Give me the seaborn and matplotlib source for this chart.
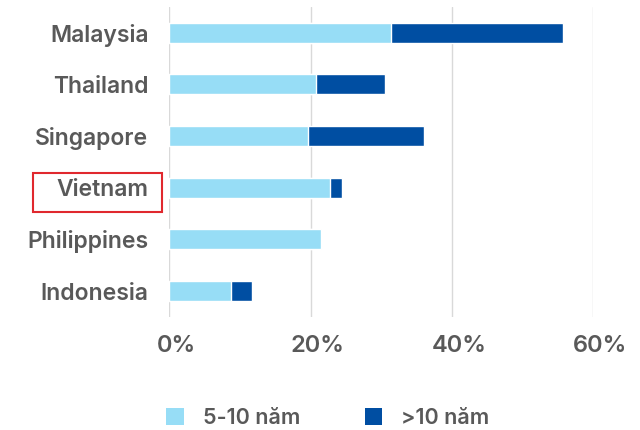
import matplotlib
matplotlib.use("Agg")
import matplotlib.pyplot as plt
import matplotlib.transforms as mtransforms
import seaborn as sns
import pandas as pd
from matplotlib.patches import Rectangle, Patch

countries = ["Malaysia", "Thailand", "Singapore", "Vietnam", "Philippines", "Indonesia"]
yrs_5_10 = [31.4, 20.8, 19.7, 22.7, 21.4, 8.8]
yrs_over_10 = [24.3, 9.7, 16.3, 1.7, 0.0, 2.9]
xticks = [0, 20, 40, 60]
xtick_labels = ["0%", "20%", "40%", "60%"]
legend_labels = ["5-10 năm", ">10 năm"]

light = "#97DDF6"
dark = "#004EA2"
text_col = "#595959"

sns.set_theme(style="white")
plt.rcParams["font.family"] = ["Inter", "DejaVu Sans"]

df = pd.DataFrame({
    "country": countries,
    "a": yrs_5_10,
    "total": [a + b for a, b in zip(yrs_5_10, yrs_over_10)],
})

fig = plt.figure(figsize=(6.4, 4.3), dpi=100)
ax = fig.add_axes([0.2645, 0.263, 0.6625, 0.721])

sns.barplot(data=df, x="total", y="country", orient="h", color=dark,
            width=0.39, saturation=1, ax=ax)
sns.barplot(data=df, x="a", y="country", orient="h", color=light,
            width=0.39, saturation=1, ax=ax)

ax.set_xlim(0, 60)
ax.set_xticks(xticks)
ax.set_xticklabels(xtick_labels)
ax.set_xlabel("")
ax.set_ylabel("")
ax.grid(axis="x", color="#D9D9D9", linewidth=1)
ax.set_axisbelow(True)
for s in ax.spines.values():
    s.set_visible(False)
ax.tick_params(axis="both", length=0)
ax.tick_params(axis="y", pad=15, labelsize=16.5, labelcolor=text_col)
ax.tick_params(axis="x", pad=13, labelsize=17, labelcolor=text_col)
for t in ax.get_yticklabels() + ax.get_xticklabels():
    t.set_fontweight(600)
offset = mtransforms.ScaledTranslation(0.07, 0, fig.dpi_scale_trans)
for t in ax.get_xticklabels():
    t.set_transform(t.get_transform() + offset)

# red highlight box around "Vietnam"
fig.patches.append(Rectangle((33 / 640, 1 - 212 / 430), 129 / 640, 39 / 430,
                             transform=fig.transFigure, fill=False,
                             edgecolor="#E0282E", linewidth=1.5))

handles = [Patch(facecolor=light, edgecolor="none"), Patch(facecolor=dark, edgecolor="none")]
leg = fig.legend(handles, legend_labels, ncol=2, loc="center",
                 bbox_to_anchor=(328 / 640, 1 - 418 / 430), frameon=False,
                 fontsize=15.5, handlelength=0.8, handleheight=0.8,
                 handletextpad=0.9, columnspacing=3.0)
for t in leg.get_texts():
    t.set_color(text_col)
    t.set_fontweight(600)

fig.savefig("out.png", dpi=100)
